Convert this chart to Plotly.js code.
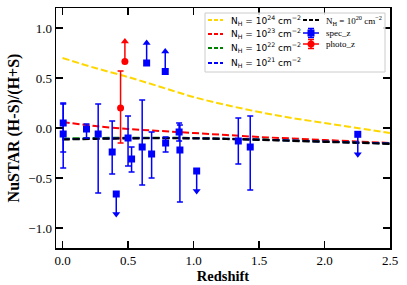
<!DOCTYPE html>
<html>
<head>
<meta charset="utf-8">
<script src="https://cdn.plot.ly/plotly-3.0.1.min.js"></script>
<style>html,body{margin:0;padding:0;background:#fff;}#chart{width:407px;height:285px;}</style>
</head>
<body>
<div id="chart"></div>
<script>
// ---- Model curves (N_H) ----
const model_z = [0, 0.25, 0.5, 0.75, 1.0, 1.25, 1.5, 1.75, 2.0, 2.25, 2.5];
const nh24 = [0.70, 0.60, 0.51, 0.41, 0.31, 0.23, 0.16, 0.10, 0.05, 0.00, -0.05];
const nh23 = [0.06, 0.02, -0.01, -0.03, -0.05, -0.07, -0.09, -0.105, -0.12, -0.135, -0.15];
const nh22 = [-0.105, -0.10, -0.097, -0.097, -0.10, -0.107, -0.115, -0.125, -0.135, -0.145, -0.155];
const nh21 = [-0.112, -0.107, -0.102, -0.10, -0.102, -0.108, -0.116, -0.126, -0.136, -0.146, -0.156];
const nh20 = [-0.115, -0.108, -0.104, -0.102, -0.104, -0.11, -0.118, -0.128, -0.138, -0.148, -0.158];

// ---- spec_z detections ----
const spec_x = [0.005, 0.005, 0.183, 0.272, 0.379, 0.50, 0.527, 0.608, 0.68, 0.787, 0.89, 0.896, 1.342, 1.433];
const spec_y = [0.05, -0.06, -0.01, -0.06, -0.24, -0.10, -0.31, -0.19, -0.26, -0.15, -0.04, -0.22, -0.13, -0.19];
const spec_err_up = [0.20, 0.30, 0.05, 0.30, 0.31, 0.22, 0.12, 0.47, 0.22, 0.06, 0.09, 0.25, 0.23, 0.31];
const spec_err_dn = [0.29, 0.34, 0.09, 0.59, 0.22, 0.28, 0.13, 0.38, 0.24, 0.09, 0.09, 0.52, 0.23, 0.43];
// spec_z upper limits (arrow down) and lower limits (arrow up)
const spec_ul_x = [0.41, 1.024, 2.254];
const spec_ul_y = [-0.66, -0.43, -0.063];
const spec_ll_x = [0.642, 0.784];
const spec_ll_y = [0.65, 0.565];

// ---- photo_z ----
const photo_x = [0.443];
const photo_y = [0.20];
const photo_err_up = [0.37];
const photo_err_dn = [0.35];
const photo_ll_x = [0.476];
const photo_ll_y = [0.665];

const ARROW = 0.2;
const BLUE = '#0000ff', RED = '#ff0000';
const DASH = '7px,3px';

function modelTrace(y, color, w) {
  return {x: model_z, y: y, type: 'scatter', mode: 'lines', showlegend: false, hoverinfo: 'skip',
    line: {color: color, width: w, dash: DASH, shape: 'spline'}};
}
function errTrace(x, y, up, dn, color, symbol) {
  return {x: x, y: y, type: 'scatter', mode: 'markers', showlegend: false,
    marker: {symbol: symbol, size: 7, color: color},
    error_y: {type: 'data', symmetric: false, array: up, arrayminus: dn, color: color, thickness: 1.5, width: 3}};
}
function limitTraces(x, y, dir, color, symbol) {
  const zeros = x.map(() => 0), len = x.map(() => ARROW);
  const shaft = {x: x, y: y, type: 'scatter', mode: 'markers', showlegend: false,
    marker: {symbol: symbol, size: 7, color: color},
    error_y: {type: 'data', symmetric: false, array: dir > 0 ? len : zeros, arrayminus: dir > 0 ? zeros : len,
      color: color, thickness: 1.5, width: 0}};
  const head = {x: x, y: y.map(v => v + dir * ARROW), type: 'scatter', mode: 'markers', showlegend: false,
    marker: {symbol: dir > 0 ? 'triangle-up' : 'triangle-down', size: 7, color: color}};
  return [shaft, head];
}

const data = [
  modelTrace(nh24, '#ffd700', 2),
  modelTrace(nh23, RED, 2),
  modelTrace(nh22, '#008000', 2),
  modelTrace(nh21, BLUE, 2),
  modelTrace(nh20, '#000000', 2.2),
  errTrace(spec_x, spec_y, spec_err_up, spec_err_dn, BLUE, 'square'),
  ...limitTraces(spec_ul_x, spec_ul_y, -1, BLUE, 'square'),
  ...limitTraces(spec_ll_x, spec_ll_y, 1, BLUE, 'square'),
  errTrace(photo_x, photo_y, photo_err_up, photo_err_dn, RED, 'circle'),
  ...limitTraces(photo_ll_x, photo_ll_y, 1, RED, 'circle'),
];

// ---- manual legend (pixel -> paper helpers) ----
const L = 56, R = 390, T = 8, B = 248;
const px = v => (v - L) / (R - L);
const py = v => (B - v) / (B - T);
const shapes = [], annotations = [];
shapes.push({type: 'rect', xref: 'paper', yref: 'paper', layer: 'above',
  x0: px(205), x1: px(385), y0: py(13), y1: py(72),
  line: {color: '#cccccc', width: 1}, fillcolor: 'rgba(255,255,255,0.85)'});
function legLine(x0, x1, y, color, w) {
  shapes.push({type: 'line', xref: 'paper', yref: 'paper', layer: 'above',
    x0: px(x0), x1: px(x1), y0: py(y), y1: py(y), line: {color: color, width: w, dash: '4px,2px'}});
}
function legText(x, y, txt, fam) {
  annotations.push({xref: 'paper', yref: 'paper', x: px(x), y: py(y), xanchor: 'left', yanchor: 'middle',
    text: txt, showarrow: false, font: {family: fam, size: 9, color: '#000'}});
}
const sans = 'DejaVu Sans, sans-serif', serif = 'Liberation Serif, serif';
const nhLabel = p => 'N<sub>H</sub> = 10<sup>' + p + '</sup> cm<sup>\u22122</sup>';
[['24', '#ffd700', 20], ['23', RED, 34], ['22', '#008000', 48], ['21', BLUE, 63]].forEach(([p, c, y]) => {
  legLine(208, 223, y, c, 2);
  legText(229, y, nhLabel(p), sans);
});
legLine(303, 319, 20, '#000', 2);
legText(324, 20, nhLabel('20'), serif);
function legErr(y, color, sym) {
  shapes.push({type: 'line', xref: 'paper', yref: 'paper', layer: 'above', x0: px(303), x1: px(319), y0: py(y), y1: py(y), line: {color: color, width: 1.5}});
  shapes.push({type: 'line', xref: 'paper', yref: 'paper', layer: 'above', x0: px(311), x1: px(311), y0: py(y - 4.5), y1: py(y + 4.5), line: {color: color, width: 1.5}});
  shapes.push({type: 'line', xref: 'paper', yref: 'paper', layer: 'above', x0: px(308), x1: px(314), y0: py(y - 4.5), y1: py(y - 4.5), line: {color: color, width: 1.5}});
  shapes.push({type: 'line', xref: 'paper', yref: 'paper', layer: 'above', x0: px(308), x1: px(314), y0: py(y + 4.5), y1: py(y + 4.5), line: {color: color, width: 1.5}});
  shapes.push({type: sym, xref: 'paper', yref: 'paper', layer: 'above', x0: px(307.5), x1: px(314.5), y0: py(y + 3.5), y1: py(y - 3.5), line: {width: 0}, fillcolor: color});
}
legErr(33, BLUE, 'rect');
legText(324, 33, 'spec_z', serif);
legErr(44, RED, 'circle');
legText(324, 44, 'photo_z', serif);

const tickFont = {family: 'Liberation Serif, serif', size: 13, color: '#000'};
const layout = {
  width: 407, height: 285,
  margin: {l: L, r: 407 - R, t: T, b: 285 - B, pad: 0},
  paper_bgcolor: '#fff', plot_bgcolor: '#fff',
  showlegend: false,
  xaxis: {range: [-0.05, 2.5], tickvals: [0, 0.5, 1, 1.5, 2, 2.5], ticktext: ['0.0', '0.5', '1.0', '1.5', '2.0', '2.5'],
    ticks: 'inside', ticklen: 7, tickwidth: 1.5, tickcolor: '#000', showline: true, linewidth: 1.5, linecolor: '#000',
    mirror: 'ticks', showgrid: false, zeroline: false, tickfont: tickFont,
    title: {text: '<b>Redshift</b>', font: {family: 'Liberation Serif, serif', size: 14.5, color: '#000'}, standoff: 3}},
  yaxis: {range: [-1.2, 1.2], tickvals: [-1, -0.5, 0, 0.5, 1], ticktext: ['\u22121.0', '\u22120.5', '0.0', '0.5', '1.0'],
    ticks: 'inside', ticklen: 7, tickwidth: 1.5, tickcolor: '#000', showline: true, linewidth: 1.5, linecolor: '#000',
    mirror: 'ticks', showgrid: false, zeroline: false, tickfont: tickFont,
    title: {text: '<b>NuSTAR (H-S)/(H+S)</b>', font: {family: 'Liberation Serif, serif', size: 16, color: '#000'}, standoff: 4}},
  shapes: shapes,
  annotations: annotations,
};
Plotly.newPlot('chart', data, layout, {displayModeBar: false, staticPlot: true});
</script>
</body>
</html>
